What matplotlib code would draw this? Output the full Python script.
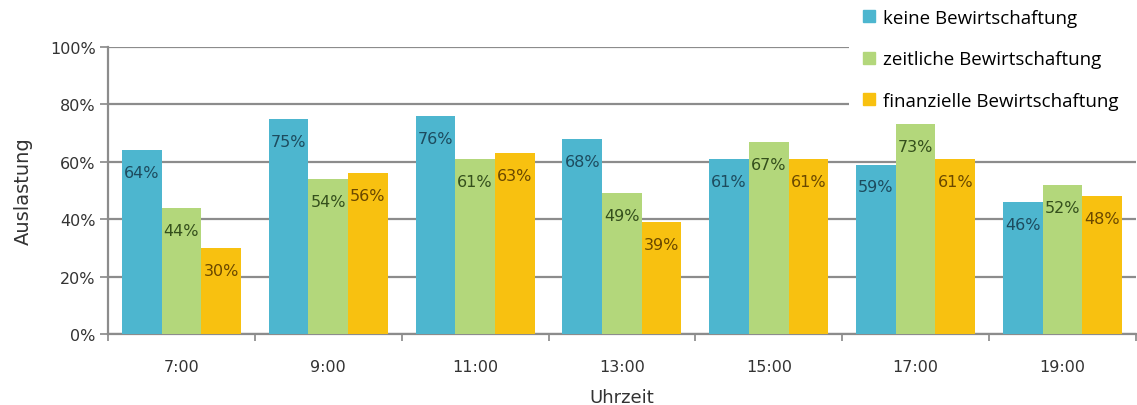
import numpy as np
import matplotlib
matplotlib.use("Agg")
import matplotlib.pyplot as plt
from matplotlib.lines import Line2D
from matplotlib.patches import Rectangle

times = ["7:00", "9:00", "11:00", "13:00", "15:00", "17:00", "19:00"]
keine = [64, 75, 76, 68, 61, 59, 46]
zeitlich = [44, 54, 61, 49, 67, 73, 52]
finanziell = [30, 56, 63, 39, 61, 61, 48]
series_names = ["keine Bewirtschaftung", "zeitliche Bewirtschaftung", "finanzielle Bewirtschaftung"]

colors = ["#4db6cf", "#b3d77b", "#f8c110"]
label_colors = ["#1d4b5e", "#344f1c", "#6a4800"]

plt.rcParams['font.family'] = ['DejaVu Sans']

fig = plt.figure(figsize=(11.37, 4.06), dpi=100)
ax = fig.add_axes([0.095, 0.175, 0.904, 0.707])

x = np.arange(len(times))
w = 0.27
for i, vals in enumerate([keine, zeitlich, finanziell]):
    pos = x + (i - 1) * w
    ax.bar(pos, vals, width=w, color=colors[i], zorder=3)
    for p, v in zip(pos, vals):
        ax.text(p, v - 7.8, f"{v}%", ha="center", va="center", fontsize=11.5,
                color=label_colors[i], zorder=4)

ax.set_xlim(-0.5, len(times) - 0.5)
ax.set_ylim(0, 100)
ax.set_yticks(np.arange(0, 101, 20))
ax.set_yticklabels([f"{t}%" for t in range(0, 101, 20)])
ax.set_xticks(x)
ax.set_xticklabels(times)
ax.set_xticks(np.arange(-0.5, len(times)), minor=True)
ax.tick_params(axis="x", which="major", length=0, pad=18, labelsize=11.5, labelcolor="#333333")
ax.tick_params(axis="x", which="minor", length=5, color="#888888", width=1.2)
ax.tick_params(axis="y", length=6, color="#888888", width=1.2, labelsize=11.5, labelcolor="#333333", pad=3)

ax.yaxis.grid(True, color="#8c8c8c", linewidth=1.6, zorder=0)
ax.set_axisbelow(True)
for s in ["top", "right"]:
    ax.spines[s].set_visible(False)
for s in ["left", "bottom"]:
    ax.spines[s].set_color("#8c8c8c")
    ax.spines[s].set_linewidth(1.6)

ax.set_ylabel("Auslastung", fontsize=14, color="#333333", labelpad=12)
ax.set_xlabel("Uhrzeit", fontsize=13, color="#333333", labelpad=10)

# white block behind the legend hides the top grid lines on the right
fig.patches.append(Rectangle((0.747, 0.72), 0.26, 0.3, transform=fig.transFigure,
                             facecolor="white", edgecolor="none", zorder=5))

handles = [Line2D([], [], marker="s", linestyle="", markersize=8, color=c) for c in colors]
leg = fig.legend(handles, series_names, loc="upper left", bbox_to_anchor=(0.754, 0.99),
                 frameon=False, labelspacing=1.25, handlelength=0.7,
                 handletextpad=0.35, borderaxespad=0.0, borderpad=0.3,
                 prop={"family": ["Open Sans", "DejaVu Sans"], "size": 13.5})
leg.set_zorder(10)

fig.savefig("out.png", dpi=100)
